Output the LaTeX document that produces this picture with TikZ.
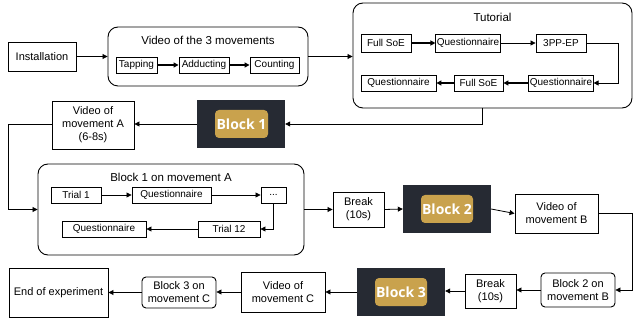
\documentclass[tikz,border=0pt]{standalone}
\usepackage{fontspec}
\setmainfont{Liberation Sans}
\newfontfamily\blockfont{Open Sans}
\usetikzlibrary{arrows.meta}
\definecolor{darkbg}{HTML}{262A33}
\definecolor{gold}{HTML}{C9A24D}
\tikzset{
  box/.style={draw, line width=0.9pt, fill=white, inner sep=1pt, align=center, font=\fontsize{11}{13}\selectfont},
  sbox/.style={draw, line width=0.9pt, fill=white, inner sep=1pt, align=center, font=\fontsize{10}{12}\selectfont, minimum height=16pt},
  rbox/.style={box, rounded corners=4pt},
  group/.style={draw, line width=0.9pt, rounded corners=10pt},
  title/.style={font=\fontsize{11.5}{13}\selectfont},
  darkblk/.style={fill=darkbg, draw=none, minimum width=88pt, minimum height=48pt},
  goldblk/.style={fill=gold, draw=none, rounded corners=4pt, minimum width=53pt, minimum height=28pt, text=white, font=\blockfont\bfseries\fontsize{14}{16}\selectfont, inner sep=0pt},
  arr/.style={-{Triangle[length=5pt,width=5pt]}, line width=0.8pt},
  barr/.style={-{Triangle[length=5pt,width=5pt]}, line width=1.6pt},
}
\begin{document}
\begin{tikzpicture}[x=1pt,y=-1pt]
\useasboundingbox (0,0) rectangle (634,320);
% Row 1
\node[box, minimum width=68pt, minimum height=29pt] (inst) at (42,56.5) {Installation};
\node[group, minimum width=200pt, minimum height=59pt] (vid3) at (208,56.5) {};
\node[title] (vid3t) at (208,40) {Video of the 3 movements};
\node[sbox, minimum width=41pt] (tap) at (136.5,65) {Tapping};
\node[sbox, minimum width=50pt] (add) at (204,65) {Adducting};
\node[sbox, minimum width=49pt] (cnt) at (274.5,65) {Counting};
\draw[barr] (tap) -- (add);
\draw[barr] (add) -- (cnt);

\node[group, minimum width=279pt, minimum height=105pt] (tut) at (492.5,55.5) {};
\node[title] (tutt) at (492.5,17) {Tutorial};
\node[sbox, minimum width=50pt, minimum height=18pt] (fs1) at (386,43) {Full SoE};
\node[sbox, minimum width=64pt, minimum height=18pt] (q1) at (468,43) {Questionnaire};
\node[sbox, minimum width=50pt, minimum height=18pt] (pp) at (561,43) {3PP-EP};
\node[sbox, minimum width=64pt] (q2) at (561,83) {Questionnaire};
\node[sbox, minimum width=49pt] (fs2) at (478.5,83) {Full SoE};
\node[sbox, minimum width=75pt] (q3) at (398.5,83) {Questionnaire};
\draw[barr] (fs1) -- (q1);
\draw[arr] (q1) -- (pp);
\draw[arr] (pp.east) -- (618,43) |- (q2.east);
\draw[barr] (q2) -- (fs2);
\draw[barr] (fs2) -- (q3);

\draw[arr] (inst) -- (vid3);
\draw[arr] (vid3.east) -- (vid3.east -| tut.west);

% Row 2
\node[darkblk] (b1) at (241,124) {};
\node[goldblk] (b1g) at (241.5,124) {Block 1};
\node[box, minimum width=82pt, minimum height=48pt] (vA) at (93,125) {Video of\\movement A\\(6-8s)};
\draw[arr] (482,108) coordinate (tutout) |- (b1.east);
\draw[arr] (b1.west) -- (vA.east |- b1.west);

\node[group, minimum width=266pt, minimum height=91pt] (blkA) at (171,209.5) {};
\node[title] (blkAt) at (171,177) {Block 1 on movement A};
\node[sbox, minimum width=50pt] (t1) at (76,195) {Trial 1};
\node[sbox, minimum width=79pt] (qa1) at (171.5,195) {Questionnaire};
\node[sbox, minimum width=25pt] (dots) at (273.5,195) {...};
\node[sbox, minimum width=62pt] (t12) at (229,229) {Trial 12};
\node[sbox, minimum width=84pt] (qa2) at (104,229) {Questionnaire};
\draw[arr] (t1) -- (qa1);
\draw[arr] (qa1) -- (dots);
\draw[arr] (dots.south) |- (t12.east);
\draw[arr] (t12) -- (qa2);

\draw[arr] (vA.west |- b1.west) -- (8,124) |- (blkA.west);

\node[box, minimum width=51pt, minimum height=35pt] (br1) at (358.5,209.5) {Break\\(10s)};
\node[darkblk] (b2) at (447,209) {};
\node[goldblk, minimum width=52pt] (b2g) at (447,209) {Block 2};
\node[box, minimum width=83pt, minimum height=39pt] (vB) at (556.5,213.5) {Video of\\movement B};
\draw[arr] (blkA.east) -- (br1.west);
\draw[arr] (br1.east) -- (b2.west);
\draw[arr] (b2.east) -- (vB.west);

% Row 3
\node[rbox, minimum width=74pt, minimum height=34pt] (b2B) at (578,290) {Block 2 on\\movement B};
\node[box, minimum width=51pt, minimum height=34pt] (br2) at (490.5,291) {Break\\(10s)};
\node[darkblk] (b3) at (401,292) {};
\node[goldblk, minimum width=52pt] (b3g) at (401,292) {Block 3};
\node[box, minimum width=84pt, minimum height=40pt] (vC) at (283,292) {Video of\\movement C};
\node[rbox, minimum width=74pt, minimum height=31pt] (b3C) at (179,292.5) {Block 3 on\\movement C};
\node[box, minimum width=99pt, minimum height=49pt] (end) at (58.5,292.5) {End of experiment};
\draw[arr] (vB.east) -- (632,213.5) |- (b2B.east);
\draw[arr] (b2B.west) -- (br2.east |- b2B.west);
\draw[arr] (br2.west) -- (b3.east |- br2.west);
\draw[arr] (b3.west) -- (vC.east);
\draw[arr] (vC.west) -- (b3C.east |- vC.west);
\draw[arr] (b3C.west) -- (end.east |- b3C.west);
\end{tikzpicture}
\end{document}
